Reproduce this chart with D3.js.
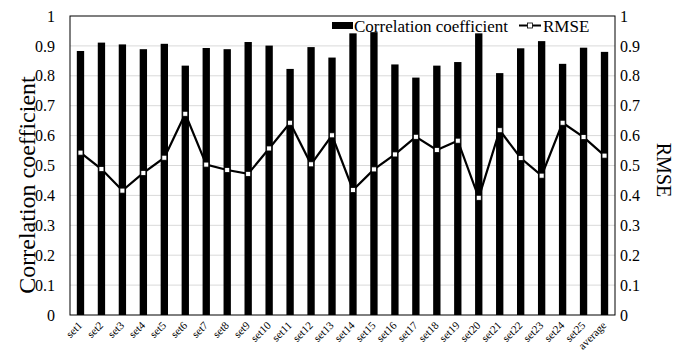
<!DOCTYPE html>
<html>
<head>
<meta charset="utf-8">
<script src="https://cdn.jsdelivr.net/npm/d3@7"></script>
<style>
  body { margin: 0; background: #fff; }
</style>
</head>
<body>
<div id="chart"></div>
<script>
// data
const categories = ["set1","set2","set3","set4","set5","set6","set7","set8","set9","set10",
  "set11","set12","set13","set14","set15","set16","set17","set18","set19","set20",
  "set21","set22","set23","set24","set25","average"];
const corrValues = [0.883,0.911,0.905,0.889,0.907,0.834,0.893,0.889,0.913,0.901,
  0.823,0.896,0.861,0.942,0.946,0.838,0.794,0.834,0.846,0.942,
  0.809,0.892,0.916,0.840,0.894,0.880];
const rmseValues = [0.543,0.488,0.416,0.475,0.526,0.673,0.503,0.485,0.472,0.557,
  0.643,0.504,0.601,0.418,0.487,0.537,0.596,0.552,0.583,0.392,
  0.618,0.525,0.466,0.643,0.595,0.533];
const yTicks = [0,0.1,0.2,0.3,0.4,0.5,0.6,0.7,0.8,0.9,1];

const W = 689, H = 358;
const plotL = 70, plotR = 615, plotT = 16, plotB = 315;
const serif = "Liberation Serif";

const svg = d3.select("#chart").append("svg")
  .attr("width", W).attr("height", H);

let x = d3.scaleBand().domain(categories).range([plotL, plotR]).paddingInner(0.65).paddingOuter(0.325);
let yL = d3.scaleLinear().domain([0, 1]).range([plotB, plotT]);
let yR = d3.scaleLinear().domain([0, 1]).range([plotB, plotT]);

// gridlines
svg.append("g").selectAll("line")
  .data(yTicks.filter(d => d > 0 && d < 1))
  .enter().append("line")
  .attr("x1", plotL).attr("x2", plotR)
  .attr("y1", d => yL(d)).attr("y2", d => yL(d))
  .attr("stroke", "#d9d9d9").attr("stroke-width", 1);

// bars
svg.append("g").selectAll("rect")
  .data(categories)
  .enter().append("rect")
  .attr("x", d => x(d))
  .attr("width", x.bandwidth())
  .attr("y", (d, i) => yL(corrValues[i]))
  .attr("height", (d, i) => plotB - yL(corrValues[i]))
  .attr("fill", "#000");

// rmse line + square markers
let cx = d => x(d) + x.bandwidth() / 2;
let line = d3.line().x((d, i) => cx(categories[i])).y(d => yR(d));
svg.append("path")
  .datum(rmseValues)
  .attr("d", line)
  .attr("fill", "none").attr("stroke", "#000").attr("stroke-width", 2.2);

svg.append("g").selectAll("rect")
  .data(rmseValues)
  .enter().append("rect")
  .attr("x", (d, i) => cx(categories[i]) - 2.5)
  .attr("y", d => yR(d) - 2.5)
  .attr("width", 5).attr("height", 5)
  .attr("fill", "#fff").attr("stroke", "#000").attr("stroke-width", 0.8);

// plot frame
svg.append("rect")
  .attr("x", plotL).attr("y", plotT)
  .attr("width", plotR - plotL).attr("height", plotB - plotT)
  .attr("fill", "none").attr("stroke", "#000").attr("stroke-width", 1);

// left axis
let axL = svg.append("g").attr("transform", "translate(" + plotL + ",0)")
  .call(d3.axisLeft(yL).tickValues(yTicks).tickFormat(d3.format("")).tickSize(0).tickPadding(15));
axL.select(".domain").remove();
axL.attr("font-family", serif).attr("font-size", 16);

// right axis
let axR = svg.append("g").attr("transform", "translate(" + plotR + ",0)")
  .call(d3.axisRight(yR).tickValues(yTicks).tickFormat(d3.format("")).tickSize(0).tickPadding(5));
axR.select(".domain").remove();
axR.attr("font-family", serif).attr("font-size", 16);

// x labels, rotated
svg.append("g").selectAll("text")
  .data(categories)
  .enter().append("text")
  .attr("transform", d => "translate(" + (cx(d) + 2.5) + ",326) rotate(-45)")
  .attr("text-anchor", "end")
  .attr("font-family", serif)
  .attr("font-size", 11)
  .text(d => d);

// axis titles
svg.append("text")
  .attr("transform", "translate(35,185) rotate(-90)")
  .attr("text-anchor", "middle")
  .attr("font-family", serif)
  .attr("font-size", 24)
  .text("Correlation coefficient");

svg.append("text")
  .attr("transform", "translate(657,170) rotate(90)")
  .attr("text-anchor", "middle")
  .attr("font-family", serif)
  .attr("font-size", 20)
  .text("RMSE");

// legend
let lg = svg.append("g").attr("font-family", serif).attr("font-size", 17);
lg.append("rect").attr("x", 332).attr("y", 22).attr("width", 21).attr("height", 7).attr("fill", "#000");
lg.append("text").attr("x", 354).attr("y", 32).text("Correlation coefficient");
lg.append("line").attr("x1", 519).attr("x2", 541).attr("y1", 25.5).attr("y2", 25.5)
  .attr("stroke", "#000").attr("stroke-width", 2);
lg.append("rect").attr("x", 527.5).attr("y", 23).attr("width", 5).attr("height", 5)
  .attr("fill", "#fff").attr("stroke", "#000").attr("stroke-width", 0.8);
lg.append("text").attr("x", 543).attr("y", 32).text("RMSE");
</script>
</body>
</html>
